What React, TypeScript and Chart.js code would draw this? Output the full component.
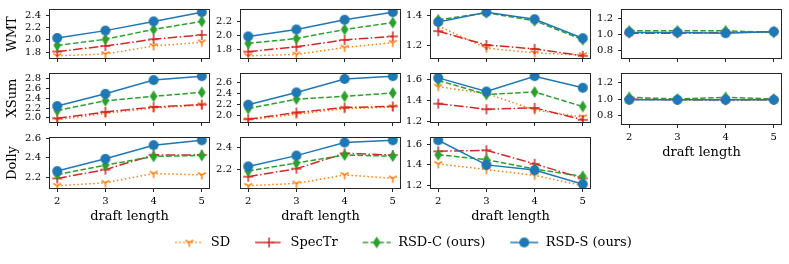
import React, { useEffect, useRef } from "react";
import { Chart, registerables } from "chart.js";

Chart.register(...registerables);

const FONT = "'DejaVu Serif', serif";

// ---------------- data ----------------
const draftLengths = [2, 3, 4, 5];
const seriesNames = ["SD", "SpecTr", "RSD-C (ours)", "RSD-S (ours)"];
const rowNames = ["WMT", "XSum", "Dolly"];
const xAxisTitle = "draft length";
const yTickStep = 0.2;
const col4Range = [0.7, 1.3];

// each panel: [SD, SpecTr, RSD-C (ours), RSD-S (ours)]
const wmtCol1 = [
  [1.74, 1.77, 1.9, 1.96],
  [1.81, 1.9, 2.01, 2.08],
  [1.91, 2.01, 2.17, 2.3],
  [2.03, 2.15, 2.3, 2.45],
];
const wmtCol2 = [
  [1.71, 1.73, 1.83, 1.9],
  [1.77, 1.84, 1.94, 1.99],
  [1.89, 1.96, 2.09, 2.19],
  [1.99, 2.09, 2.23, 2.34],
];
const wmtCol3 = [
  [1.33, 1.185, 1.154, 1.14],
  [1.296, 1.206, 1.18, 1.135],
  [1.37, 1.416, 1.364, 1.24],
  [1.356, 1.42, 1.374, 1.25],
];
const wmtCol4 = [
  [1.02, 1.02, 1.02, 1.02],
  [1.01, 1.01, 1.02, 1.03],
  [1.04, 1.04, 1.04, 1.02],
  [1.02, 1.02, 1.01, 1.03],
];
const xsumCol1 = [
  [1.96, 2.09, 2.2, 2.26],
  [1.99, 2.12, 2.22, 2.27],
  [2.15, 2.35, 2.44, 2.52],
  [2.24, 2.49, 2.77, 2.85],
];
const xsumCol2 = [
  [1.93, 2.03, 2.13, 2.16],
  [1.94, 2.06, 2.15, 2.17],
  [2.13, 2.3, 2.35, 2.41],
  [2.2, 2.42, 2.66, 2.71],
];
const xsumCol3 = [
  [1.53, 1.466, 1.31, 1.243],
  [1.37, 1.317, 1.33, 1.217],
  [1.59, 1.457, 1.48, 1.343],
  [1.614, 1.485, 1.63, 1.52],
];
const xsumCol4 = [
  [0.99, 0.99, 0.98, 0.99],
  [1.0, 0.99, 0.99, 0.99],
  [1.02, 1.0, 1.02, 1.0],
  [0.99, 0.99, 0.99, 0.99],
];
const dollyCol1 = [
  [2.115, 2.145, 2.24, 2.225],
  [2.19, 2.28, 2.43, 2.43],
  [2.23, 2.325, 2.415, 2.425],
  [2.265, 2.39, 2.53, 2.58],
];
const dollyCol2 = [
  [2.06, 2.08, 2.155, 2.125],
  [2.14, 2.21, 2.345, 2.33],
  [2.19, 2.26, 2.33, 2.32],
  [2.23, 2.325, 2.44, 2.46],
];
const dollyCol3 = [
  [1.41, 1.355, 1.3, 1.2],
  [1.53, 1.54, 1.41, 1.27],
  [1.497, 1.45, 1.36, 1.29],
  [1.636, 1.4, 1.35, 1.215],
];

const panelGrid: (number[][] | null)[][] = [
  [wmtCol1, wmtCol2, wmtCol3, wmtCol4],
  [xsumCol1, xsumCol2, xsumCol3, xsumCol4],
  [dollyCol1, dollyCol2, dollyCol3, null],
];

// ---------------- layout / style ----------------
const PLOT_LEFTS = [50, 241, 431, 622];
const PLOT_TOPS = [7, 71, 135];
const PW = 159;
const PH = 53;
const YW = 50;
const TP = 8;
const RP = 8;
const BP = 4;

const COLORS = ["#ff7f0e", "#d62728", "#2ca02c", "#1f77b4"];
const DASHES = [[1.5, 2.5], [9.6, 2.4, 1.5, 2.4], [5.5, 2.4], []];
const AXIS_COLOR = "#262626";

function makeCanvas(w: number, h: number) {
  const c = document.createElement("canvas");
  c.width = w;
  c.height = h;
  return c;
}

function drawMarker(ctx: CanvasRenderingContext2D, i: number, cx: number, cy: number) {
  const color = COLORS[i];
  ctx.save();
  ctx.setLineDash([]);
  if (i === 0) {
    const r = 4.5;
    ctx.strokeStyle = color;
    ctx.lineWidth = 1.5;
    ctx.beginPath();
    ctx.moveTo(cx, cy);
    ctx.lineTo(cx, cy + r);
    ctx.moveTo(cx, cy);
    ctx.lineTo(cx - r * 0.866, cy - r * 0.5);
    ctx.moveTo(cx, cy);
    ctx.lineTo(cx + r * 0.866, cy - r * 0.5);
    ctx.stroke();
  } else if (i === 1) {
    const r = 5;
    ctx.strokeStyle = color;
    ctx.lineWidth = 1.5;
    ctx.beginPath();
    ctx.moveTo(cx - r, cy);
    ctx.lineTo(cx + r, cy);
    ctx.moveTo(cx, cy - r);
    ctx.lineTo(cx, cy + r);
    ctx.stroke();
  } else if (i === 2) {
    ctx.fillStyle = color;
    ctx.beginPath();
    ctx.moveTo(cx, cy - 6);
    ctx.lineTo(cx + 3.8, cy);
    ctx.lineTo(cx, cy + 6);
    ctx.lineTo(cx - 3.8, cy);
    ctx.closePath();
    ctx.fill();
  } else {
    ctx.fillStyle = color;
    ctx.beginPath();
    ctx.arc(cx, cy, 5, 0, Math.PI * 2);
    ctx.fill();
  }
  ctx.restore();
}

function markerImage(i: number) {
  const c = makeCanvas(14, 14);
  const ctx = c.getContext("2d")!;
  drawMarker(ctx, i, 7, 7);
  return c;
}

function legendImage(i: number) {
  const c = makeCanvas(30, 14);
  const ctx = c.getContext("2d")!;
  ctx.strokeStyle = COLORS[i];
  ctx.lineWidth = 1.5;
  ctx.setLineDash(DASHES[i]);
  ctx.beginPath();
  ctx.moveTo(1, 7);
  ctx.lineTo(29, 7);
  ctx.stroke();
  drawMarker(ctx, i, 15, 7);
  return c;
}

const framePlugin = {
  id: "frame",
  afterDraw(chart: any) {
    const a = chart.chartArea;
    if (!a) return;
    const ctx = chart.ctx;
    ctx.save();
    ctx.strokeStyle = AXIS_COLOR;
    ctx.lineWidth = 1;
    const l = Math.round(a.left) - 0.5;
    const t = Math.round(a.top) - 0.5;
    const r = Math.round(a.right) + 0.5;
    const b = Math.round(a.bottom) + 0.5;
    ctx.strokeRect(l, t, r - l, b - t);
    ctx.restore();
  },
};

function autoRange(series: number[][]) {
  const all = series.flat();
  const mn = Math.min(...all);
  const mx = Math.max(...all);
  const pad = (mx - mn) * 0.05;
  return [mn - pad, mx + pad];
}

function stepTicks(min: number, max: number) {
  const out: { value: number }[] = [];
  const k0 = Math.ceil(min / yTickStep - 1e-9);
  const k1 = Math.floor(max / yTickStep + 1e-9);
  for (let k = k0; k <= k1; k++) out.push({ value: Math.round(k * yTickStep * 1e6) / 1e6 });
  return out;
}

type PanelProps = { row: number; col: number; series: number[][] };

function Panel({ row, col, series }: PanelProps) {
  const ref = useRef<HTMLCanvasElement>(null);
  const isCol4 = col === 3;
  const showXLabels = row === 2 || (isCol4 && row === 1);
  const XH = showXLabels ? 36 : 5;
  const width = YW + PW + RP;
  const height = TP + PH + XH + BP;
  const left = PLOT_LEFTS[col] - YW;
  const top = PLOT_TOPS[row] - TP;

  useEffect(() => {
    const [ymin, ymax] = isCol4 ? col4Range : autoRange(series);
    const xPad = (draftLengths[draftLengths.length - 1] - draftLengths[0]) * 0.05;
    const datasets = series.map((vals, i) => ({
      label: seriesNames[i],
      data: draftLengths.map((x, j) => ({ x, y: vals[j] })),
      borderColor: COLORS[i],
      backgroundColor: COLORS[i],
      borderWidth: 1.5,
      borderDash: DASHES[i],
      borderCapStyle: "butt" as const,
      tension: 0,
      pointStyle: markerImage(i),
      pointRadius: 5,
      pointHoverRadius: 5,
      order: 4 - i,
    }));
    const chart = new Chart(ref.current!, {
      type: "line",
      data: { datasets },
      options: {
        animation: false,
        responsive: false,
        events: [],
        layout: { padding: { top: TP, right: RP, left: 0, bottom: BP } },
        plugins: { legend: { display: false }, tooltip: { enabled: false } },
        scales: {
          x: {
            type: "linear",
            min: draftLengths[0] - xPad,
            max: draftLengths[draftLengths.length - 1] + xPad,
            afterBuildTicks: (s: any) => {
              s.ticks = draftLengths.map((v) => ({ value: v }));
            },
            afterFit: (s: any) => {
              s.height = XH;
            },
            grid: { display: true, drawOnChartArea: false, drawTicks: true, tickLength: 4, color: AXIS_COLOR, lineWidth: 1 },
            border: { display: false },
            ticks: {
              display: showXLabels,
              autoSkip: false,
              maxRotation: 0,
              padding: 3,
              color: "#000",
              font: { family: FONT, size: 10 },
              callback: (v: any) => String(v),
            },
            title: {
              display: showXLabels,
              text: xAxisTitle,
              color: "#000",
              font: { family: FONT, size: 13 },
              padding: { top: 0, bottom: 0 },
            },
          },
          y: {
            type: "linear",
            min: ymin,
            max: ymax,
            afterBuildTicks: (s: any) => {
              s.ticks = stepTicks(ymin, ymax);
            },
            afterFit: (s: any) => {
              s.width = YW;
            },
            grid: { display: true, drawOnChartArea: false, drawTicks: true, tickLength: 4, color: AXIS_COLOR, lineWidth: 1 },
            border: { display: false },
            ticks: {
              autoSkip: false,
              padding: 5,
              color: "#000",
              font: { family: FONT, size: 10 },
              callback: (v: any) => Number(v).toFixed(1),
            },
            title: {
              display: col === 0,
              text: rowNames[row],
              color: "#000",
              font: { family: FONT, size: 13 },
              padding: { top: 5, bottom: 0 },
            },
          },
        },
      },
      plugins: [framePlugin],
    } as any);
    return () => chart.destroy();
  }, []);

  return (
    <canvas
      ref={ref}
      width={width}
      height={height}
      style={{ position: "absolute", left, top, width, height }}
    />
  );
}

function Legend() {
  const ref = useRef<HTMLCanvasElement>(null);
  const left = 17;
  const width = 772;
  const top = 212;
  const height = 52;
  useEffect(() => {
    const imgs = seriesNames.map((_, i) => legendImage(i));
    const chart = new Chart(ref.current!, {
      type: "line",
      data: {
        datasets: seriesNames.map((n, i) => ({ label: n, data: [], borderColor: COLORS[i] })),
      },
      options: {
        animation: false,
        responsive: false,
        events: [],
        scales: { x: { display: false }, y: { display: false } },
        plugins: {
          tooltip: { enabled: false },
          legend: {
            display: true,
            position: "top",
            maxHeight: 200,
            labels: {
              usePointStyle: true,
              pointStyleWidth: 30,
              boxHeight: 13,
              padding: 24,
              color: "#000",
              font: { family: FONT, size: 13 },
              generateLabels: () =>
                seriesNames.map((n, i) => ({
                  text: n,
                  pointStyle: imgs[i],
                  fillStyle: "rgba(0,0,0,0)",
                  strokeStyle: "rgba(0,0,0,0)",
                  lineWidth: 0,
                  hidden: false,
                  datasetIndex: i,
                  fontColor: "#000",
                })),
            },
          },
        },
      },
    } as any);
    return () => chart.destroy();
  }, []);
  return (
    <canvas
      ref={ref}
      width={width}
      height={height}
      style={{ position: "absolute", left, top, width, height }}
    />
  );
}

export default function App() {
  return (
    <div
      style={{
        position: "fixed",
        left: 0,
        top: 0,
        width: 789,
        height: 264,
        background: "#fff",
        overflow: "hidden",
      }}
    >
      {panelGrid.map((rowPanels, r) =>
        rowPanels.map((series, c) =>
          series ? <Panel key={`${r}-${c}`} row={r} col={c} series={series} /> : null
        )
      )}
      <Legend />
    </div>
  );
}
